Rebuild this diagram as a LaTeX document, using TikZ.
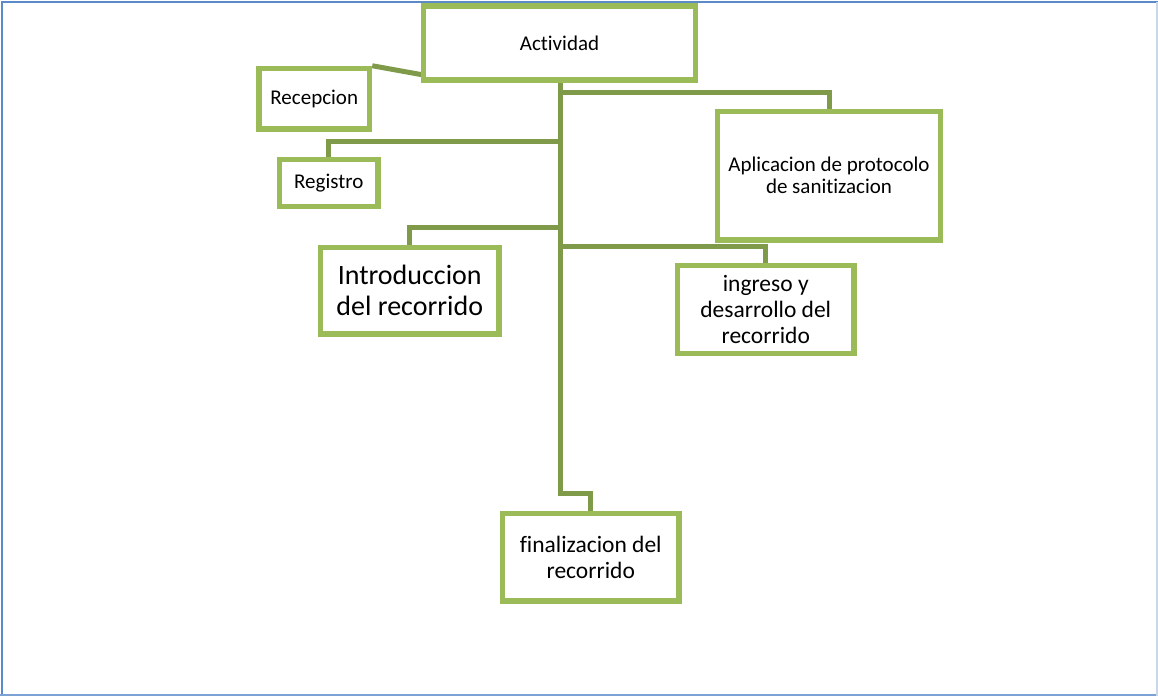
\documentclass[tikz,border=0pt]{standalone}
\usepackage{fontspec}
\setmainfont{Carlito}[Ligatures=NoCommon]
\usetikzlibrary{backgrounds}
\definecolor{boxgreen}{HTML}{9BBB59}
\definecolor{linegreen}{HTML}{7F9A48}
\definecolor{frameblue}{HTML}{5B8AC9}
\definecolor{framelight}{HTML}{C9D7EA}
\tikzset{
  box/.style={draw=boxgreen, line width=5.5pt, fill=white, inner sep=0pt, align=center, text=black},
  small/.style={font=\fontsize{21}{22}\selectfont},
  mid/.style={font=\fontsize{23.5}{26}\selectfont},
  big/.style={font=\fontsize{28}{31}\selectfont},
  conn/.style={draw=linegreen, line width=5pt, line join=miter},
}
\begin{document}
\begin{tikzpicture}[x=1pt,y=-1pt]
\useasboundingbox (0,0) rectangle (1158,696);
% frame
\draw[frameblue, line width=2pt] (2,696) -- (2,2) -- (1158,2);
\draw[frameblue!80, line width=2pt] (0,695) -- (1158,695);
\draw[framelight, line width=1.5pt] (1157,2) -- (1157,696);
% boxes
\node[box, small, minimum width=272pt, minimum height=74pt] (act) at (559.5,43) {Actividad};
\node[box, small, minimum width=110.5pt, minimum height=60.5pt] (rec) at (314.25,98.75) {Recepcion};
\node[box, small, minimum width=98.5pt, minimum height=47pt] (reg) at (328.75,183) {Registro};
\node[box, small, minimum width=223pt, minimum height=128.5pt] (apl) at (829,175.75) {Aplicacion de protocolo\\de sanitizacion};
\node[box, mid, minimum width=176.5pt, minimum height=88pt] (ing) at (765.75,309.5) {ingreso y\\desarrollo del\\recorrido};
\node[box, big, minimum width=178.5pt, minimum height=86.5pt] (intro) at (409.75,290.75) {Introduccion\\del recorrido};
\node[box, mid, minimum width=176.5pt, minimum height=87.5pt] (fin) at (590.75,557.25) {finalizacion del\\recorrido};
% junctions on trunk
\coordinate (j1) at (560,92);
\coordinate (j2) at (560,141);
\coordinate (j3) at (560,227);
\coordinate (j4) at (560,246);
\coordinate (j5) at (560,493);
\coordinate (actl) at (423.5,75);
\begin{scope}[on background layer]
\draw[conn] (act.south -| j1) -- (j5) -| (fin.north);
\draw[conn] (j1) -| (apl.north);
\draw[conn] (j2) -| (reg.north);
\draw[conn] (j3) -| (intro.north);
\draw[conn] (j4) -| (ing.north);
\draw[conn] (rec.north east) -- (actl);
\end{scope}
\end{tikzpicture}
\end{document}
